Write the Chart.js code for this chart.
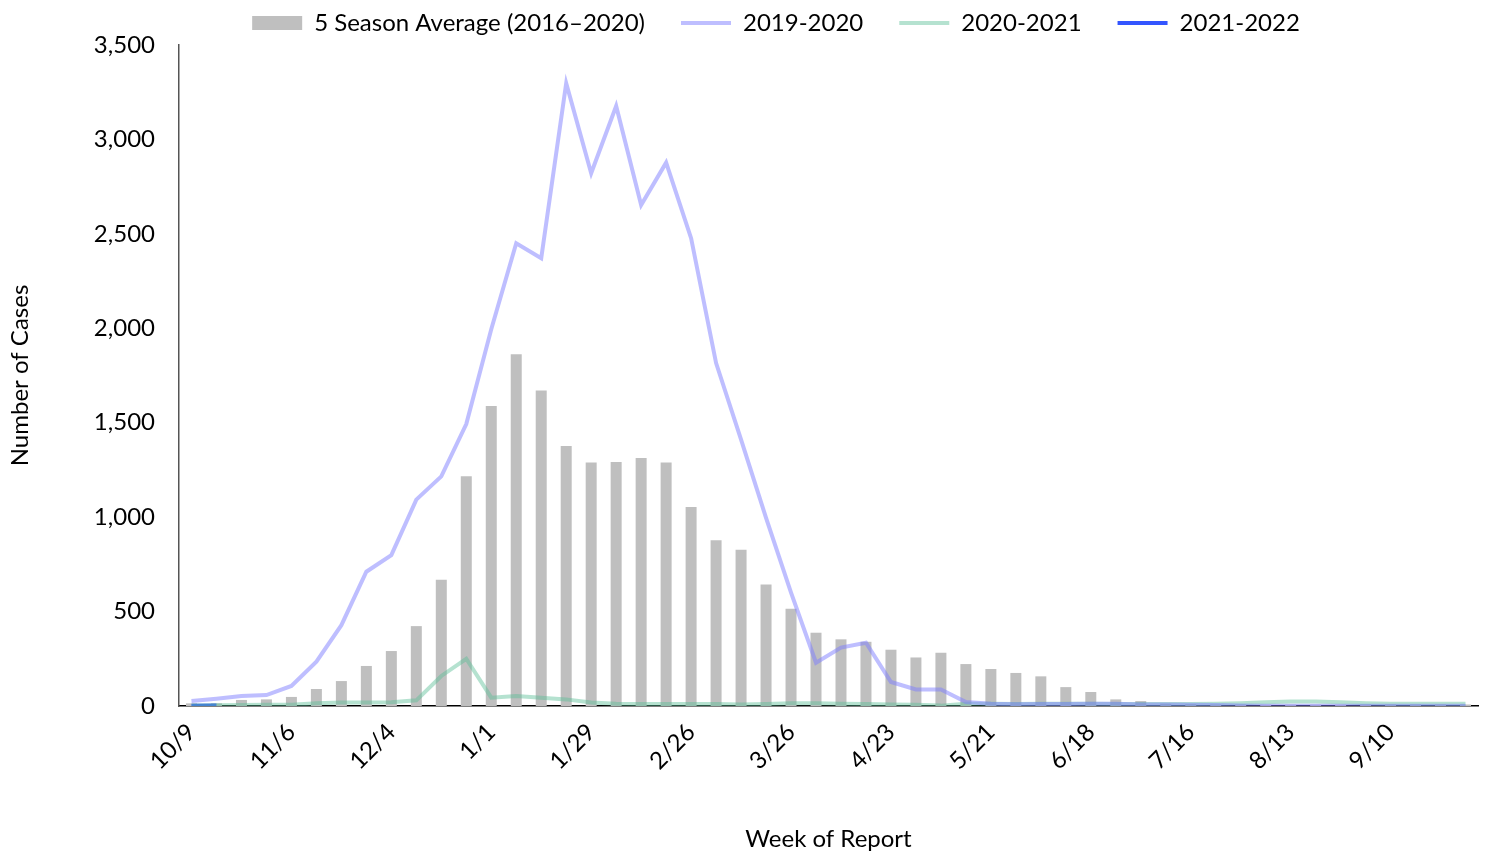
<!DOCTYPE html>
<html>
<head>
<meta charset="utf-8">
<script src="https://cdn.jsdelivr.net/npm/chart.js@4"></script>
<style>
  html, body { margin: 0; padding: 0; background: #fff; }
  #wrap { width: 1486px; height: 852px; }
</style>
</head>
<body>
<div id="wrap"><canvas id="grafico" width="1486" height="852"></canvas></div>
<script>
// Semanas de notificação
const semanas = [
  "10/9", "10/16", "10/23", "10/30", "11/6", "11/13", "11/20", "11/27",
  "12/4", "12/11", "12/18", "12/25", "1/1", "1/8", "1/15", "1/22",
  "1/29", "2/5", "2/12", "2/19", "2/26", "3/5", "3/12", "3/19",
  "3/26", "4/2", "4/9", "4/16", "4/23", "4/30", "5/7", "5/14",
  "5/21", "5/28", "6/4", "6/11", "6/18", "6/25", "7/2", "7/9",
  "7/16", "7/23", "7/30", "8/6", "8/13", "8/20", "8/27", "9/3",
  "9/10", "9/17", "9/24", "10/1"
];

// Média de 5 temporadas (barras)
const media5 = [
  14, 14, 32, 35, 48, 90, 132, 212, 291, 423, 668, 1216, 1589, 1862, 1670, 1377,
  1289, 1292, 1313, 1289, 1054, 878, 827, 643, 515, 388, 353, 340, 298, 257, 282, 222,
  196, 175, 157, 100, 74, 35, 26, 12, 10, 8, 8, 7, 7, 7, 7, 8,
  8, 8, 8, 8
];

const temporada1920 = [
  27, 39, 53, 58, 106, 235, 428, 711, 799, 1093, 1216, 1493, 1995, 2450, 2371, 3297,
  2821, 3177, 2653, 2877, 2477, 1816, 1410, 996, 600, 229, 309, 335, 127, 88, 88, 21,
  12, 9, 10, 10, 12, 12, 8, 8, 7, 5, 2, 1, 1, 1, 1, 1,
  1, 1, 1, 1
];

const temporada2021 = [
  2, 4, 5, 6, 6, 14, 18, 18, 20, 30, 159, 250, 44, 53, 44, 35,
  18, 12, 10, 10, 10, 10, 8, 10, 14, 14, 12, 10, 8, 6, 2, 12,
  12, 10, 12, 12, 12, 10, 10, 10, 10, 12, 15, 20, 24, 24, 20, 15,
  12, 12, 12, 12
];

const temporada2122 = [1, 2];

const yMax = 3500;
const yPasso = 500;

const fonte = "Lato, 'Open Sans', sans-serif";

// Desloca a legenda um pouco para a direita, como no original
const ajusteLegenda = {
  id: "ajusteLegenda",
  afterLayout(chart) {
    chart.legend.left += 37;
    chart.legend.right += 37;
  }
};

const ctx = document.getElementById("grafico").getContext("2d");

const grafico = new Chart(ctx, {
  type: "bar",
  data: {
    labels: semanas,
    datasets: [
      {
        label: "5 Season Average (2016\u20132020)",
        data: media5,
        backgroundColor: "#bfbfbf",
        borderWidth: 0,
        barPercentage: 0.44,
        categoryPercentage: 1,
        pointStyle: "rect",
        order: 1
      },
      {
        type: "line",
        label: "2019-2020",
        data: temporada1920,
        borderColor: "rgba(125, 125, 255, 0.5)",
        backgroundColor: "rgba(125, 125, 255, 0.5)",
        borderWidth: 4,
        pointRadius: 0,
        tension: 0,
        pointStyle: "line",
        order: 0
      },
      {
        type: "line",
        label: "2020-2021",
        data: temporada2021,
        borderColor: "rgba(90, 190, 150, 0.45)",
        backgroundColor: "rgba(90, 190, 150, 0.45)",
        borderWidth: 4,
        pointRadius: 0,
        tension: 0,
        pointStyle: "line",
        order: 0
      },
      {
        type: "line",
        label: "2021-2022",
        data: temporada2122,
        borderColor: "#3355ff",
        backgroundColor: "#3355ff",
        borderWidth: 4,
        pointRadius: 0,
        tension: 0,
        pointStyle: "line",
        order: 0
      }
    ]
  },
  options: {
    responsive: false,
    animation: false,
    layout: {
      padding: { top: -25, right: 8, left: 0, bottom: 0 }
    },
    scales: {
      x: {
        grid: { display: false, drawTicks: false },
        border: { display: true, color: "#000", width: 1.5 },
        ticks: {
          autoSkip: false,
          maxRotation: 45,
          minRotation: 45,
          padding: 12,
          color: "#000",
          font: { family: fonte, size: 24 },
          callback: function (value, index) {
            return index % 4 === 0 ? this.getLabelForValue(value) : "";
          }
        },
        title: {
          display: true,
          text: "Week of Report",
          color: "#000",
          font: { family: fonte, size: 24 },
          padding: { top: 0, bottom: -2 }
        },
        afterFit(scale) {
          scale.height = 146;
          scale.paddingRight = 0;
        }
      },
      y: {
        min: 0,
        max: yMax,
        grid: { display: false, drawTicks: false },
        border: { display: true, color: "#555", width: 1.5 },
        ticks: {
          stepSize: yPasso,
          padding: 24,
          color: "#000",
          font: { family: fonte, size: 24 }
        },
        title: {
          display: true,
          text: "Number of Cases",
          color: "#000",
          font: { family: fonte, size: 24 },
          padding: { top: 6, bottom: 0 }
        },
        afterFit(scale) {
          scale.width = 179;
        }
      }
    },
    plugins: {
      legend: {
        position: "top",
        labels: {
          usePointStyle: true,
          pointStyleWidth: 50,
          boxWidth: 46,
          boxHeight: 14,
          padding: 36,
          color: "#000",
          font: { family: fonte, size: 24 },
          sort: (a, b) => a.datasetIndex - b.datasetIndex
        }
      },
      tooltip: { enabled: false }
    }
  },
  plugins: [ajusteLegenda]
});
</script>
</body>
</html>
